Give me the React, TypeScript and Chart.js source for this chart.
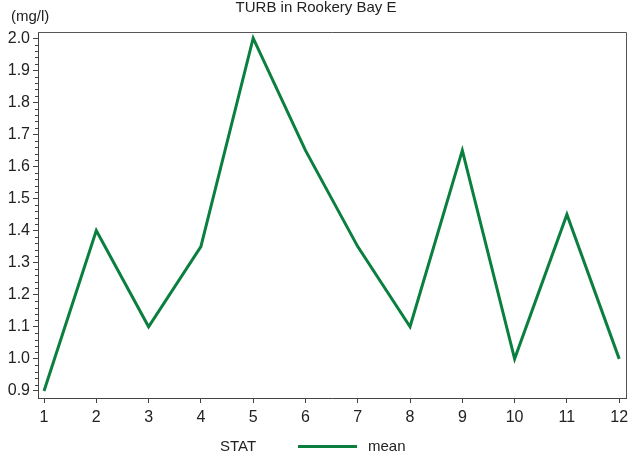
import React, { useEffect, useRef } from "react";
import { Chart, registerables } from "chart.js";

Chart.register(...registerables);

const months = [1, 2, 3, 4, 5, 6, 7, 8, 9, 10, 11, 12];
const meanValues = [0.9, 1.4, 1.1, 1.35, 2.0, 1.65, 1.35, 1.1, 1.65, 1.0, 1.45, 1.0];
const yTickValues = [0.9, 1.0, 1.1, 1.2, 1.3, 1.4, 1.5, 1.6, 1.7, 1.8, 1.9, 2.0];
const titleText = "TURB in Rookery Bay E";
const yUnitText = "(mg/l)";
const legendTitle = "STAT";
const seriesName = "mean";

const FONT = "'Liberation Sans', Arial, Helvetica, sans-serif";
const GREEN = "#0b7f3f";
const TEXT = "#222";
const AXIS = "#444";

const decorPlugin = {
  id: "decor",
  afterDraw(chart: any) {
    const { ctx, chartArea } = chart;
    const y = chart.scales.y;
    ctx.save();
    // frame top & right
    ctx.strokeStyle = "#555";
    ctx.lineWidth = 1;
    ctx.beginPath();
    ctx.moveTo(chartArea.left, Math.round(chartArea.top) + 0.5);
    ctx.lineTo(Math.round(chartArea.right) + 0.5, Math.round(chartArea.top) + 0.5);
    ctx.lineTo(Math.round(chartArea.right) + 0.5, chartArea.bottom);
    ctx.stroke();
    // minor y ticks
    ctx.strokeStyle = AXIS;
    ctx.beginPath();
    for (let i = 0; i < yTickValues.length - 1; i++) {
      const a = yTickValues[i];
      const b = yTickValues[i + 1];
      for (let k = 1; k < 5; k++) {
        const v = a + ((b - a) * k) / 5;
        const py = Math.round(y.getPixelForValue(v)) + 0.5;
        ctx.moveTo(chartArea.left - 3, py);
        ctx.lineTo(chartArea.left, py);
      }
    }
    ctx.stroke();
    // title
    ctx.fillStyle = TEXT;
    ctx.font = `15px ${FONT}`;
    ctx.textAlign = "center";
    ctx.textBaseline = "middle";
    ctx.fillText(titleText, 316, 8);
    // y unit
    ctx.textAlign = "left";
    ctx.fillText(yUnitText, 11, 17);
    // legend
    ctx.fillText(legendTitle, 220, 447);
    ctx.strokeStyle = GREEN;
    ctx.lineWidth = 3;
    ctx.beginPath();
    ctx.moveTo(298, 446.5);
    ctx.lineTo(357, 446.5);
    ctx.stroke();
    ctx.fillStyle = TEXT;
    ctx.fillText(seriesName, 368, 447);
    ctx.restore();
  },
};

export default function App() {
  const ref = useRef<HTMLCanvasElement>(null);
  useEffect(() => {
    if (!ref.current) return;
    const chart = new Chart(ref.current, {
      type: "line",
      data: {
        datasets: [
          {
            label: seriesName,
            data: months.map((m, i) => ({ x: m, y: meanValues[i] })),
            borderColor: GREEN,
            borderWidth: 3,
            pointRadius: 0,
            fill: false,
            tension: 0,
          },
        ],
      },
      options: {
        responsive: false,
        animation: false,
        layout: { padding: { left: 0, right: 3, top: 32, bottom: 25 } },
        plugins: {
          legend: { display: false },
          title: { display: false },
          tooltip: { enabled: false },
        },
        scales: {
          x: {
            type: "linear",
            min: 0.885,
            max: 12.13,
            afterBuildTicks: (s: any) => {
              s.ticks = months.map((v) => ({ value: v }));
            },
            afterFit: (s: any) => {
              s.height = 35;
              s.paddingLeft = 0;
              s.paddingRight = 0;
            },
            ticks: {
              color: TEXT,
              font: { family: FONT, size: 16 },
              padding: 5,
              maxRotation: 0,
              autoSkip: false,
              callback: (v: any) => String(v),
            },
            grid: { drawOnChartArea: false, drawTicks: true, tickLength: 5, tickColor: AXIS },
            border: { color: AXIS, width: 1 },
          },
          y: {
            type: "linear",
            min: 0.878,
            max: 2.019,
            afterBuildTicks: (s: any) => {
              s.ticks = yTickValues.map((v) => ({ value: v }));
            },
            afterFit: (s: any) => {
              s.width = 38;
              s.paddingTop = 0;
              s.paddingBottom = 0;
            },
            ticks: {
              color: TEXT,
              font: { family: FONT, size: 16 },
              padding: 3,
              autoSkip: false,
              callback: (v: any) => Number(v).toFixed(1),
            },
            grid: { drawOnChartArea: false, drawTicks: true, tickLength: 5, tickColor: AXIS },
            border: { color: AXIS, width: 1 },
          },
        },
      },
      plugins: [decorPlugin],
    });
    return () => chart.destroy();
  }, []);
  return (
    <div style={{ position: "fixed", left: 0, top: 0, width: 629, height: 458, background: "#fff" }}>
      <canvas ref={ref} width={629} height={458} style={{ width: 629, height: 458 }} />
    </div>
  );
}
